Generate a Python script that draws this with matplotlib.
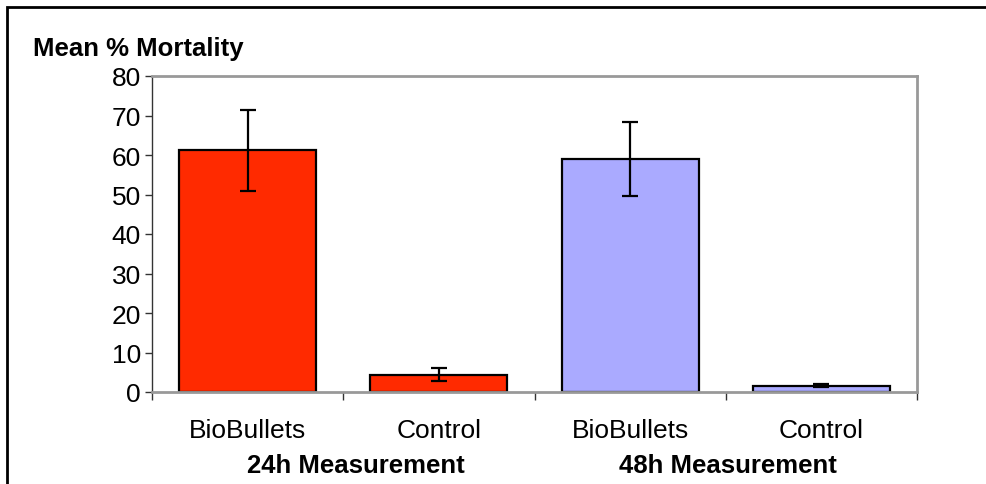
import matplotlib.pyplot as plt
from matplotlib.patches import Rectangle
import numpy as np

plt.rcParams['font.family'] = ['Liberation Sans', 'DejaVu Sans']

# data
categories = ["BioBullets", "Control", "BioBullets", "Control"]
groups = ["24h Measurement", "48h Measurement"]
mortality = [61.2, 4.4, 58.9, 1.6]
errors = [10.2, 1.6, 9.4, 0.3]
colors = ["#FF2A00", "#FF2A00", "#AAAAFF", "#AAAAFF"]

fig = plt.figure(figsize=(9.87, 4.85), dpi=100)
ax = fig.add_axes([152/987, 1 - 393/485, (917-152)/987, (393-77)/485])

x = np.arange(len(categories))
ax.bar(x, mortality, width=0.716, color=colors, edgecolor="black", linewidth=1.6, zorder=2)
ax.errorbar(x, mortality, yerr=errors, fmt="none", ecolor="black",
            elinewidth=1.6, capsize=5.5, capthick=1.6, zorder=3)

ax.set_xlim(-0.5, len(categories) - 0.5)
ax.set_ylim(0, 80)
ax.set_yticks(range(0, 81, 10))
ax.tick_params(axis="y", labelsize=19, length=5, width=1, color="#333333", pad=3)

# boundary ticks like Excel, labels centred under bars
ax.set_xticks(np.arange(-0.5, len(categories), 1.0))
ax.set_xticklabels([])
ax.tick_params(axis="x", which="major", length=6, width=1, color="#333333")
ax.set_xticks(x, minor=True)
ax.set_xticklabels(categories, minor=True, fontsize=19)
ax.tick_params(axis="x", which="minor", length=0, pad=19)

ax.spines["left"].set_color("#333333")
ax.spines["left"].set_linewidth(1)
for s in ["top", "right", "bottom"]:
    ax.spines[s].set_color("#999999")
    ax.spines[s].set_linewidth(2)

fig.text(33/987, 1 - 49/485, "Mean % Mortality", fontsize=18.5, fontweight="bold",
         ha="left", va="center")
fig.text(356/987, 1 - 466/485, groups[0], fontsize=18.5, fontweight="bold",
         ha="center", va="center")
fig.text(728/987, 1 - 466/485, groups[1], fontsize=18.5, fontweight="bold",
         ha="center", va="center")

# outer chart border (only top and left fall inside the image)
fig.patches.append(Rectangle((7/987, -0.1), 1.2, 1 - 8/485 + 0.1, transform=fig.transFigure,
                             fill=False, edgecolor="black", linewidth=2))

fig.savefig("out.png", dpi=100)
